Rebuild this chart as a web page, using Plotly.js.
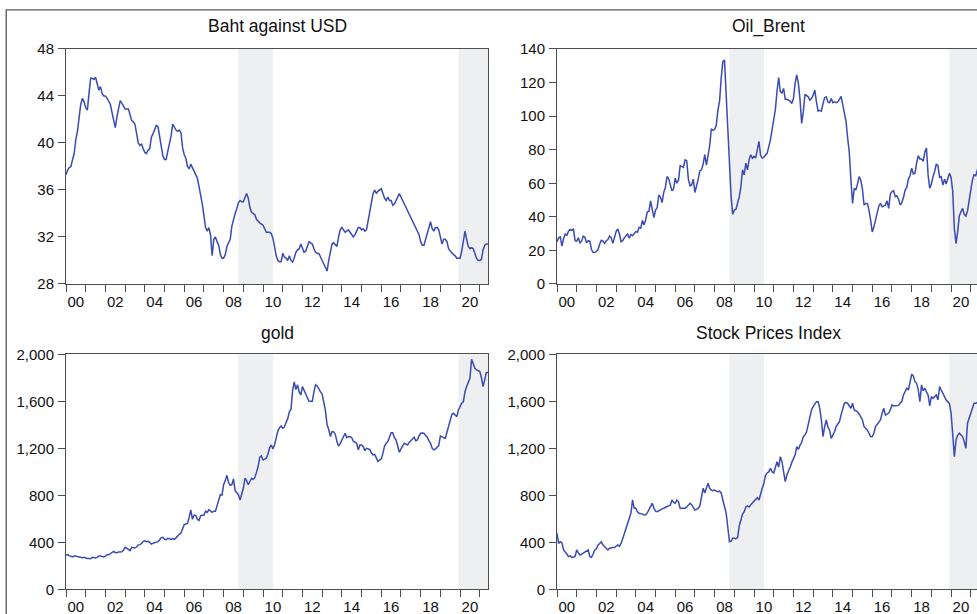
<!DOCTYPE html>
<html>
<head>
<meta charset="utf-8">
<script src="https://cdn.plot.ly/plotly-3.0.1.min.js"></script>
<style>
  html, body { margin: 0; padding: 0; background: #ffffff; overflow: hidden; }
  #chart { width: 1000px; height: 614px; }
</style>
</head>
<body>
<div id="chart"></div>
<script>
// ---- Data: monthly observations, Jan 2000 to Jun 2021 ----
const startYear = 2000;
const titles = ["Baht against USD", "Oil_Brent", "gold", "Stock Prices Index"];
const yearLabels = ["00","02","04","06","08","10","12","14","16","18","20"];
const shadedPeriods = [[2008.75, 2010.5], [2019.917, 2021.417]];

const baht = [
  37.3,37.7,37.9,38.0,38.6,39.1,40.3,41.0,42.2,43.3,43.8,43.5,
  43.0,42.8,44.2,45.5,45.5,45.4,45.6,45.0,44.5,44.8,44.2,44.0,
  44.0,43.8,43.5,43.3,42.6,42.0,41.3,42.2,43.0,43.6,43.4,43.2,
  42.9,42.9,42.9,42.4,41.9,41.8,41.6,40.8,40.0,39.8,39.9,39.5,
  39.2,39.1,39.4,39.5,40.5,40.8,41.2,41.5,41.4,40.6,39.6,38.9,
  38.6,38.6,39.3,39.9,40.6,41.6,41.3,41.1,41.0,41.1,40.9,39.6,
  39.0,38.7,38.0,37.8,38.2,37.9,37.6,37.4,37.0,36.3,35.6,34.8,
  33.8,32.8,32.5,32.8,32.2,30.4,31.8,32.0,31.6,31.3,30.5,30.2,
  30.2,30.5,31.2,31.5,31.8,32.9,33.5,34.0,34.4,34.9,35.1,35.0,
  35.0,35.3,35.7,35.3,34.5,34.1,34.0,33.9,33.5,33.3,33.2,33.1,
  33.0,32.7,32.4,32.4,32.4,32.3,31.9,31.2,30.4,30.0,29.9,29.9,
  30.6,30.3,30.2,30.0,30.4,30.0,29.85,30.2,30.7,30.9,31.0,31.4,
  31.0,30.7,30.8,31.2,31.6,31.5,31.4,31.0,30.7,30.6,30.6,30.3,
  30.0,29.7,29.4,29.1,30.0,30.8,31.4,31.5,31.3,31.2,32.0,32.6,
  32.8,32.6,32.4,32.5,32.6,32.4,32.2,32.0,32.2,32.5,32.8,32.8,
  32.6,32.7,32.5,32.6,33.3,34.0,34.8,35.7,36.0,35.7,35.9,36.0,
  36.1,35.7,35.3,35.1,35.4,35.1,35.1,34.7,34.8,35.1,35.4,35.7,
  35.4,35.1,34.8,34.6,34.3,34.0,33.7,33.4,33.1,32.8,32.5,32.2,
  31.6,31.3,31.3,31.8,32.3,32.8,33.3,32.7,32.5,32.8,32.8,32.6,
  32.0,31.4,31.8,31.8,31.6,31.0,30.8,30.6,30.5,30.4,30.2,30.2,
  30.2,30.8,31.6,32.5,31.8,31.2,31.0,31.1,31.0,30.6,30.2,30.0,
  30.0,30.1,30.9,31.3,31.4,31.4
];

const oilBrent = [
  25.2,27.5,28.0,22.5,27.0,29.8,29.0,31.5,32.5,32.0,32.8,25.8,
  25.5,27.5,24.5,25.5,28.5,27.8,24.5,25.8,25.5,20.5,18.8,18.7,
  19.5,20.5,23.8,26.0,25.5,24.2,25.8,26.5,28.5,27.5,24.2,28.5,
  31.2,32.8,30.0,25.2,25.8,27.5,28.5,29.8,27.2,29.5,28.8,29.8,
  31.2,30.8,33.8,33.3,37.8,35.2,38.3,43.0,43.3,49.5,43.0,39.5,
  44.0,45.5,53.0,51.8,48.5,54.5,57.5,64.0,62.8,58.5,55.5,56.8,
  63.0,60.0,62.0,70.5,70.0,69.5,74.0,73.5,62.5,58.5,59.0,62.5,
  54.5,58.0,62.5,67.5,68.0,71.5,77.0,70.8,77.5,82.5,92.5,91.5,
  92.0,94.5,103.5,109.0,122.5,132.5,133.5,113.0,98.0,72.0,52.5,41.5,
  44.0,44.5,48.0,52.0,58.0,68.0,65.0,72.0,68.0,74.0,77.0,75.0,
  76.0,75.0,80.0,85.0,76.5,75.0,75.5,77.0,78.0,82.0,86.0,92.0,
  97.0,104.0,115.0,123.0,114.6,113.8,116.5,110.0,110.0,109.5,109.0,107.5,
  110.5,119.5,124.5,119.5,110.0,95.7,102.5,113.0,112.5,111.5,109.5,110.5,
  112.5,115.5,108.5,103.0,103.5,103.0,107.5,111.0,111.5,108.5,108.0,110.5,
  108.0,108.5,108.0,108.5,110.0,111.8,106.8,101.5,97.0,87.0,78.5,62.0,
  48.0,57.0,56.0,59.5,64.0,62.0,56.5,47.0,48.0,48.0,44.0,38.0,
  31.0,34.0,38.5,42.0,46.5,48.0,46.0,46.5,47.0,49.5,45.0,53.5,
  55.0,55.5,52.0,52.5,50.5,47.0,48.5,51.5,56.0,57.5,62.5,64.5,
  69.0,65.5,66.0,72.0,76.5,74.5,74.5,73.0,78.5,81.0,65.0,57.0,
  59.5,64.0,67.0,71.5,70.5,63.5,64.0,59.0,62.5,59.5,62.5,66.0,
  63.5,55.0,33.0,24.0,31.0,40.5,43.0,45.0,41.5,40.5,43.5,50.0,
  55.0,62.0,65.0,64.5,68.0,72.0
];

const gold = [
  290,296,287,282,275,286,282,276,272,270,268,272,
  265,262,263,260,272,270,267,272,283,283,276,276,
  282,295,294,302,315,322,314,311,318,317,320,333,
  358,350,335,329,357,357,351,360,378,380,390,408,
  412,405,408,400,385,392,397,401,406,420,440,442,
  425,423,434,430,424,432,425,438,458,468,478,508,
  550,556,560,612,675,596,632,628,597,586,627,630,
  630,665,655,678,667,655,665,664,712,755,805,802,
  890,925,970,910,885,890,940,840,825,805,760,815,
  860,945,925,890,925,945,935,950,995,1045,1125,1135,
  1100,1110,1115,1150,1205,1228,1195,1230,1300,1345,1375,1390,
  1370,1380,1420,1450,1510,1530,1690,1765,1700,1740,1680,1654,
  1725,1690,1650,1630,1600,1600,1600,1680,1740,1730,1700,1680,
  1660,1600,1520,1400,1360,1300,1342,1340,1320,1257,1220,1240,
  1271,1300,1328,1290,1299,1300,1290,1260,1250,1243,1186,1228,
  1228,1215,1180,1200,1195,1190,1160,1143,1148,1115,1087,1100,
  1110,1157,1220,1243,1257,1294,1333,1333,1290,1271,1228,1166,
  1195,1220,1243,1235,1228,1250,1265,1271,1294,1265,1271,1305,
  1328,1330,1328,1310,1294,1265,1243,1200,1186,1194,1210,1223,
  1305,1295,1290,1285,1340,1384,1440,1489,1498,1480,1469,1526,
  1560,1583,1597,1682,1725,1760,1796,1957,1923,1881,1867,1860,
  1853,1800,1725,1782,1844,1844
];

const stockIndex = [
  477,391,405,397,335,320,300,278,285,272,272,280,
  335,310,292,300,310,320,330,335,278,272,300,335,
  345,377,390,405,377,360,345,335,350,355,355,356,
  365,377,365,390,430,477,520,562,600,647,760,689,
  689,660,647,645,640,633,635,650,680,700,732,690,
  665,661,670,680,685,690,700,705,710,715,760,740,
  732,760,745,689,690,689,690,700,715,732,720,690,
  675,680,690,710,789,860,820,860,902,860,845,840,
  845,835,830,835,820,760,690,650,530,405,410,434,
  434,430,440,540,590,640,660,700,710,700,720,735,
  746,760,780,760,817,860,902,973,990,1001,1030,1000,
  990,1030,1086,1040,1129,1086,1010,916,973,1001,1040,1080,
  1110,1143,1214,1190,1228,1250,1299,1313,1340,1398,1450,1526,
  1554,1580,1597,1597,1540,1441,1299,1384,1441,1380,1356,1285,
  1313,1340,1384,1410,1427,1483,1540,1583,1590,1583,1560,1540,
  1583,1526,1520,1510,1492,1470,1441,1384,1370,1356,1328,1299,
  1300,1328,1384,1405,1420,1441,1498,1540,1483,1490,1500,1526,
  1569,1560,1560,1560,1565,1583,1600,1654,1690,1711,1696,1767,
  1830,1816,1767,1753,1700,1597,1739,1690,1711,1680,1654,1560,
  1640,1625,1640,1654,1611,1725,1696,1660,1640,1611,1597,1580,
  1500,1340,1129,1271,1310,1328,1313,1300,1257,1200,1413,1455,
  1503,1550,1583,1583,1590,1600
];

// ---- Build figure ----
const series = [baht, oilBrent, gold, stockIndex];
const months = baht.map((_, i) => startYear + i / 12);
const xEnd = months[months.length - 1];

const lineColor = '#3a4bb2';
const axisColor = '#4d4d4d';
const bandColor = '#edeff1';
const textColor = '#111111';

const traces = series.map((vals, k) => ({
  type: 'scatter', mode: 'lines',
  x: months, y: vals,
  xaxis: 'x' + (k === 0 ? '' : k + 1),
  yaxis: 'y' + (k === 0 ? '' : k + 1),
  line: { color: lineColor, width: 1.5 },
  hoverinfo: 'skip'
}));

const labelVals = yearLabels.map((_, i) => startYear + 2 * i + 0.5);

function xAxis(domain, anchor) {
  return {
    domain: domain, anchor: anchor, range: [startYear, xEnd],
    showgrid: false, zeroline: false,
    showline: true, mirror: true, linecolor: axisColor, linewidth: 1,
    tickmode: 'array', tickvals: labelVals, ticktext: yearLabels,
    ticks: 'outside', ticklen: 4, tickcolor: 'rgba(0,0,0,0)',
    tickfont: { size: 15, color: textColor },
    minor: { tickmode: 'linear', tick0: startYear, dtick: 1, ticks: 'outside',
             ticklen: 7, tickwidth: 1, tickcolor: axisColor, showgrid: false },
    fixedrange: true
  };
}
function yAxis(domain, anchor, range, dtick, fmt) {
  return {
    domain: domain, anchor: anchor, range: range, dtick: dtick, tick0: range[0],
    showgrid: false, zeroline: false,
    showline: true, mirror: true, linecolor: axisColor, linewidth: 1,
    ticks: 'outside', ticklen: 7, tickwidth: 1, tickcolor: axisColor,
    tickfont: { size: 15, color: textColor },
    tickformat: fmt, ticklabelstandoff: 1,
    fixedrange: true
  };
}

const colL = [0.066, 0.488], colR = [0.557, 0.979];
const rowT = [0.5375, 0.9202], rowB = [0.0402, 0.4230];

const shapes = [];
['x', 'x2', 'x3', 'x4'].forEach((xr, k) => {
  const yr = 'y' + (k === 0 ? '' : k + 1) + ' domain';
  shadedPeriods.forEach(p => {
    shapes.push({ type: 'rect', xref: xr, yref: yr, x0: p[0], x1: p[1], y0: 0, y1: 1,
      fillcolor: bandColor, line: { width: 0 }, layer: 'below' });
  });
});
// outer frame of the figure
shapes.push({ type: 'rect', xref: 'paper', yref: 'paper', x0: 0.0062, x1: 1.2, y0: -0.2, y1: 0.9838,
  line: { color: '#555555', width: 1.3 }, fillcolor: 'rgba(0,0,0,0)' });

const titleY = [0.957, 0.957, 0.4575, 0.4575];
const titleX = [(colL[0] + colL[1]) / 2, (colR[0] + colR[1]) / 2, (colL[0] + colL[1]) / 2, (colR[0] + colR[1]) / 2];
const annotations = titles.map((t, k) => ({
  text: t, xref: 'paper', yref: 'paper', x: titleX[k], y: titleY[k],
  xanchor: 'center', yanchor: 'middle', showarrow: false,
  font: { size: 17.5, color: textColor }
}));

const layout = {
  width: 1000, height: 614,
  margin: { l: 0, r: 0, t: 0, b: 0 },
  paper_bgcolor: '#ffffff', plot_bgcolor: '#ffffff',
  showlegend: false,
  font: { family: 'Liberation Sans, Arial, sans-serif', size: 15, color: textColor },
  xaxis: xAxis(colL, 'y'),   yaxis: yAxis(rowT, 'x', [28, 48], 4, 'd'),
  xaxis2: xAxis(colR, 'y2'), yaxis2: yAxis(rowT, 'x2', [0, 140], 20, 'd'),
  xaxis3: xAxis(colL, 'y3'), yaxis3: yAxis(rowB, 'x3', [0, 2000], 400, ',d'),
  xaxis4: xAxis(colR, 'y4'), yaxis4: yAxis(rowB, 'x4', [0, 2000], 400, ',d'),
  shapes: shapes,
  annotations: annotations
};

Plotly.newPlot('chart', traces, layout, { staticPlot: true, displayModeBar: false });
</script>
</body>
</html>
